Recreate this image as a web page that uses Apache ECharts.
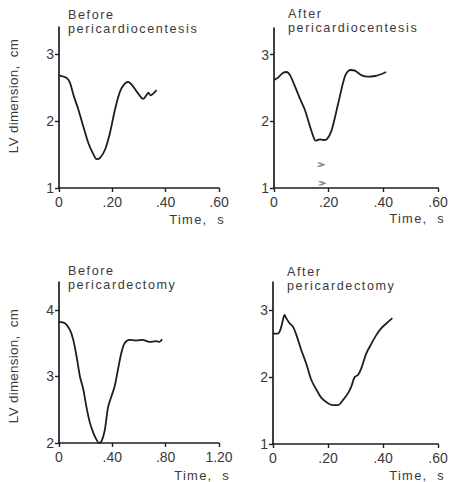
<!DOCTYPE html>
<html><head><meta charset="utf-8">
<script src="https://cdn.jsdelivr.net/npm/echarts@6/dist/echarts.min.js"></script>
<style>
html,body{margin:0;padding:0;background:#fff}
#c{width:451px;height:482px}
#c text[style*="12.6px"]{letter-spacing:1.6px}
#c text[style*="12.9px"]{letter-spacing:1.3px}
#c text[style*="13.4px"]{letter-spacing:0.3px}
</style>
</head><body><div id="c"></div>
<script>
// ---- data ----
const titles = [
  'Before\npericardiocentesis',
  'After\npericardiocentesis',
  'Before\npericardectomy',
  'After\npericardectomy'
];
const yAxisName = 'LV dimension,  cm';
const xAxisName = 'Time,  s';

const xTicks1 = [0, 0.2, 0.4, 0.6];
const xTickLabels1 = ['0', '.20', '.40', '.60'];
const xTicks3 = [0, 0.4, 0.8, 1.2];
const xTickLabels3 = ['0', '.40', '.80', '1.20'];
const yTicks1 = [1, 2, 3];
const yTicks3 = [2, 3, 4];

const time1 = [0,0.029,0.041,0.054,0.0725,0.091,0.11,0.129,0.141,0.154,0.1725,0.191,0.21,0.229,0.2475,0.26,0.2725,0.291,0.31,0.316,0.329,0.335,0.344,0.354,0.366];
const dim1  = [2.68,2.64,2.57,2.39,2.17,1.92,1.67,1.50,1.43,1.45,1.57,1.82,2.17,2.44,2.56,2.58,2.54,2.44,2.34,2.33,2.39,2.42,2.38,2.41,2.46];

const time2 = [0,0.016,0.034,0.046,0.059,0.077,0.095,0.113,0.132,0.144,0.152,0.168,0.18,0.193,0.211,0.235,0.26,0.278,0.296,0.321,0.345,0.37,0.394,0.41];
const dim2  = [2.62,2.66,2.73,2.74,2.69,2.52,2.34,2.17,1.92,1.77,1.71,1.73,1.72,1.73,1.87,2.27,2.68,2.77,2.76,2.69,2.67,2.68,2.71,2.74];
// small stray marks below the curve in panel 2
const markTime2 = [0.172, 0.176];
const markDim2  = [1.35, 1.07];

const time3 = [0,0.045,0.082,0.107,0.132,0.157,0.181,0.206,0.231,0.256,0.281,0.30,0.318,0.343,0.368,0.393,0.417,0.442,0.467,0.492,0.53,0.578,0.628,0.678,0.728,0.752,0.773];
const dim3  = [3.82,3.80,3.70,3.55,3.30,3.00,2.82,2.54,2.31,2.16,2.05,2.00,2.02,2.19,2.54,2.70,2.85,3.10,3.35,3.50,3.55,3.54,3.55,3.52,3.53,3.52,3.56];

const time4 = [0,0.018,0.028,0.036,0.042,0.048,0.061,0.073,0.085,0.103,0.121,0.139,0.158,0.176,0.20,0.218,0.236,0.255,0.273,0.285,0.297,0.309,0.321,0.339,0.358,0.376,0.394,0.412,0.434];
const dim4  = [2.65,2.65,2.72,2.85,2.93,2.88,2.80,2.75,2.63,2.40,2.20,1.96,1.81,1.69,1.61,1.58,1.58,1.66,1.76,1.86,2.00,2.03,2.13,2.35,2.50,2.63,2.73,2.80,2.88];

// ---- layout ----
const FONT = '"Liberation Sans", Arial, Helvetica, sans-serif';
const TXT = '#3a3a3a';
const LINE = '#1e1e1e';
const grids = [
  {left: 59, top: 27, width: 160, height: 161},
  {left: 274, top: 28, width: 164, height: 160},
  {left: 59, top: 282, width: 160, height: 161},
  {left: 273, top: 282, width: 165, height: 162}
];
const xCfg = [
  {max: 0.6, interval: 0.2, ticks: xTicks1, labels: xTickLabels1},
  {max: 0.6, interval: 0.2, ticks: xTicks1, labels: xTickLabels1},
  {max: 1.2, interval: 0.4, ticks: xTicks3, labels: xTickLabels3},
  {max: 0.6, interval: 0.2, ticks: xTicks1, labels: xTickLabels1}
];
const yCfg = [
  {min: 1, max: 3.4, ticks: yTicks1},
  {min: 1, max: 3.4, ticks: yTicks1},
  {min: 2, max: 4.42, ticks: yTicks3},
  {min: 1, max: 3.42, ticks: yTicks1}
];
const series = [[time1, dim1], [time2, dim2], [time3, dim3], [time4, dim4]];

const axisLine = {show: true, lineStyle: {color: LINE, width: 1.7}};
const option = {
  animation: false,
  backgroundColor: '#fff',
  grid: grids.map(g => Object.assign({containLabel: false}, g)),
  xAxis: xCfg.map((c, i) => ({
    type: 'value', gridIndex: i, min: 0, max: c.max, interval: c.interval,
    axisLine: axisLine,
    axisTick: {show: true, inside: false, length: 4, lineStyle: {color: LINE, width: 1.4}},
    splitLine: {show: false},
    axisLabel: {
      color: TXT, fontSize: 14, fontFamily: FONT, margin: 7,
      formatter: (v) => { const k = c.ticks.findIndex(t => Math.abs(t - v) < 1e-6); return k >= 0 ? c.labels[k] : ''; }
    }
  })),
  yAxis: yCfg.map((c, i) => ({
    type: 'value', gridIndex: i, min: c.min, max: c.max, interval: 1,
    axisLine: axisLine,
    axisTick: {show: true, inside: false, length: 4, customValues: c.ticks, lineStyle: {color: LINE, width: 1.4}},
    splitLine: {show: false},
    axisLabel: {
      color: TXT, fontSize: 14, fontFamily: FONT, margin: 5, customValues: c.ticks,
      formatter: (v) => (Math.abs(v - Math.round(v)) < 1e-6 ? String(Math.round(v)) : '')
    }
  })),
  series: series.map((s, i) => ({
    type: 'line', xAxisIndex: i, yAxisIndex: i,
    data: s[0].map((t, k) => [t, s[1][k]]),
    smooth: 0.3, showSymbol: false,
    lineStyle: {color: LINE, width: 1.8}
  })).concat([{
    type: 'scatter', xAxisIndex: 1, yAxisIndex: 1,
    data: markTime2.map((t, k) => [t, markDim2[k]]),
    symbol: 'path://M0,0 L6,2 L0,4 M2,0 L8,2 L2,4',
    symbolSize: [7, 4],
    itemStyle: {color: 'none', borderColor: '#666', borderWidth: 1}
  }]),
  graphic: [
    // panel titles
    {type: 'text', left: 68, top: 8, style: {text: titles[0], fill: TXT, font: '12.6px ' + FONT, lineHeight: 14}},
    {type: 'text', left: 288, top: 7, style: {text: titles[1], fill: TXT, font: '12.6px ' + FONT, lineHeight: 14}},
    {type: 'text', left: 68, top: 264, style: {text: titles[2], fill: TXT, font: '12.6px ' + FONT, lineHeight: 14}},
    {type: 'text', left: 287, top: 265, style: {text: titles[3], fill: TXT, font: '12.6px ' + FONT, lineHeight: 14}},
    // x axis names
    {type: 'text', x: 225, y: 219, style: {text: xAxisName, fill: TXT, font: '12.9px ' + FONT, align: 'right', verticalAlign: 'middle'}},
    {type: 'text', x: 445, y: 218, style: {text: xAxisName, fill: TXT, font: '12.9px ' + FONT, align: 'right', verticalAlign: 'middle'}},
    {type: 'text', x: 230, y: 475, style: {text: xAxisName, fill: TXT, font: '12.9px ' + FONT, align: 'right', verticalAlign: 'middle'}},
    {type: 'text', x: 445, y: 475, style: {text: xAxisName, fill: TXT, font: '12.9px ' + FONT, align: 'right', verticalAlign: 'middle'}},
    // y axis names
    {type: 'text', x: 13, y: 96, rotation: Math.PI / 2, style: {text: yAxisName, fill: TXT, font: '13.4px ' + FONT, align: 'center', verticalAlign: 'middle'}},
    {type: 'text', x: 13, y: 366, rotation: Math.PI / 2, style: {text: yAxisName, fill: TXT, font: '13.4px ' + FONT, align: 'center', verticalAlign: 'middle'}}
  ]
};
const chart = echarts.init(document.getElementById('c'), null, {renderer: 'svg'});
chart.setOption(option);
</script></body></html>
